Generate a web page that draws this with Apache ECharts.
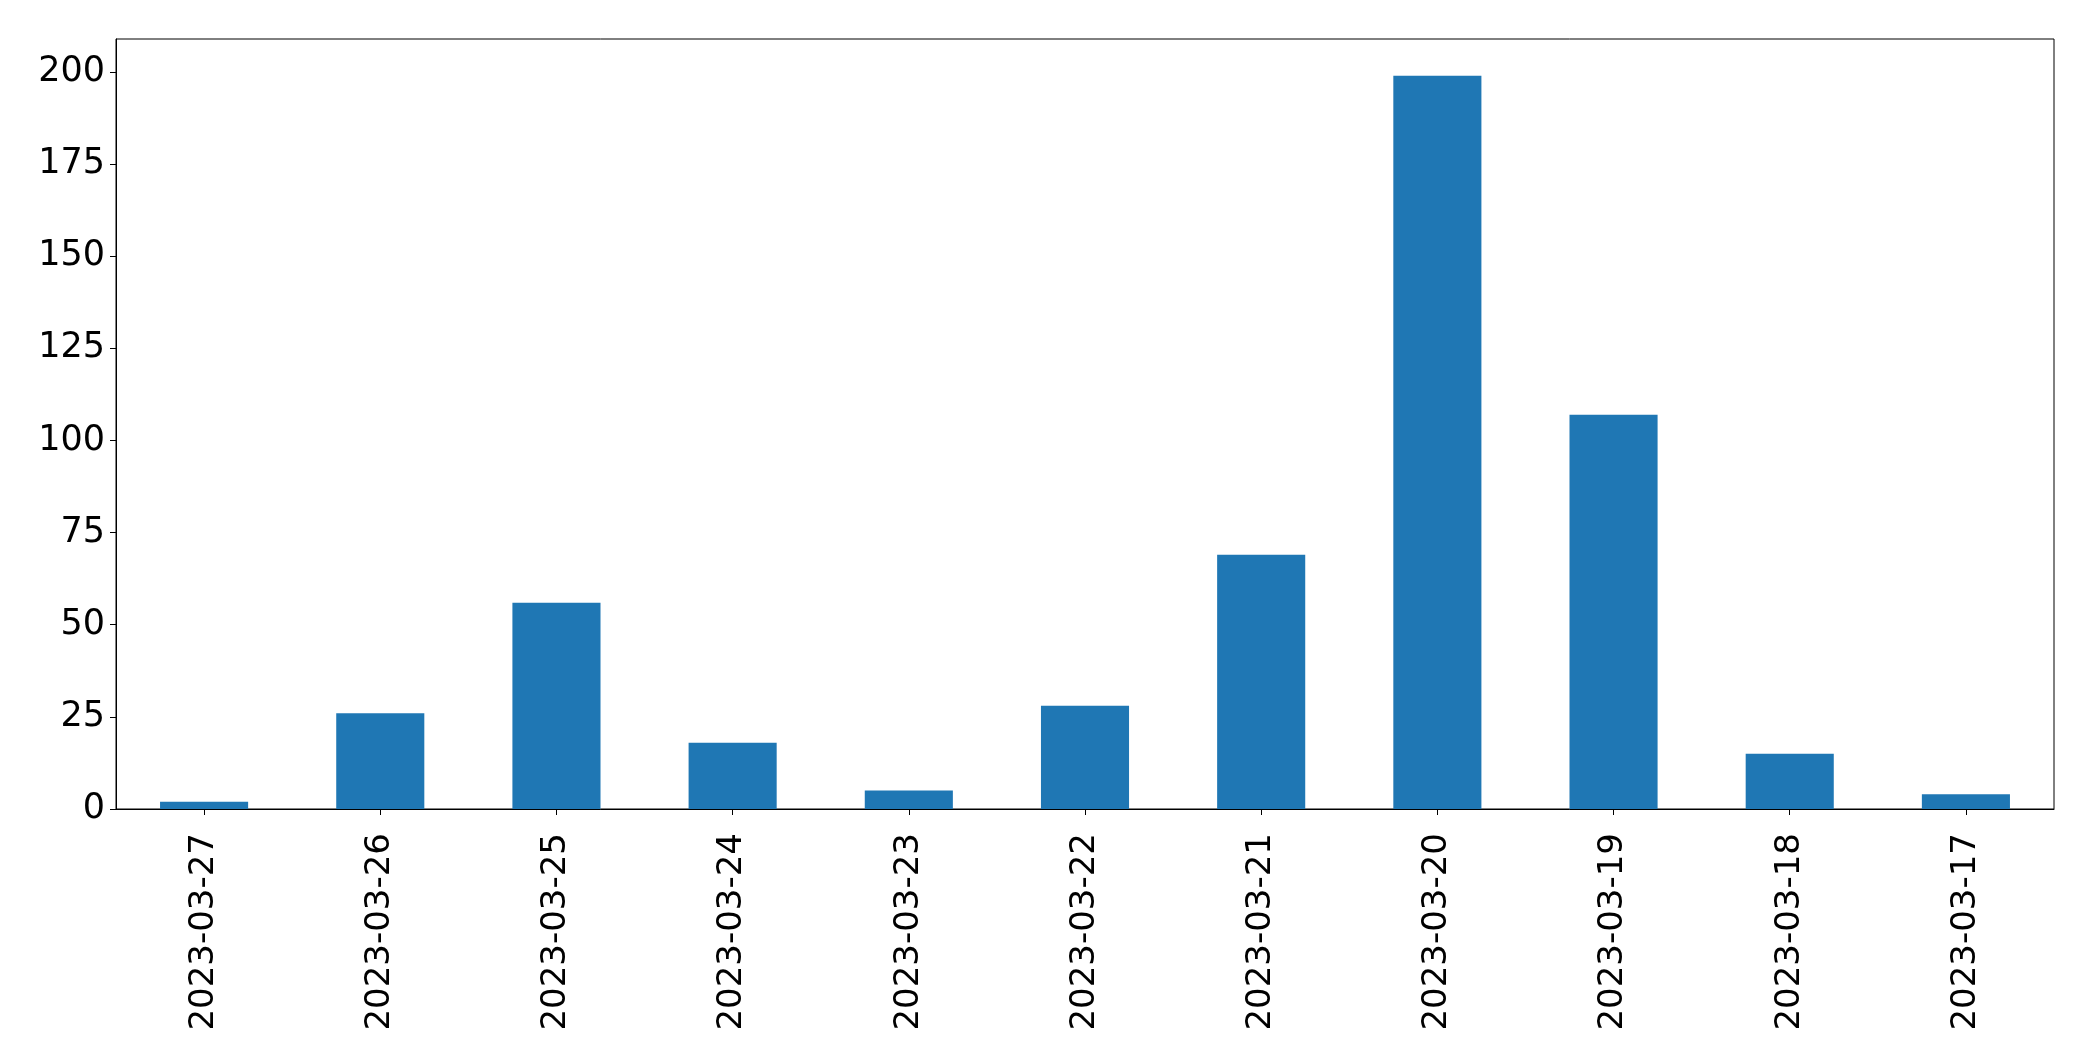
<!DOCTYPE html>
<html>
<head>
<meta charset="utf-8">
<script src="https://cdn.jsdelivr.net/npm/echarts@6/dist/echarts.min.js"></script>
<style>html,body{margin:0;padding:0;background:#fff}#c{width:2093px;height:1061px}</style>
</head>
<body>
<div id="c"></div>
<script>
const categories = ['2023-03-27','2023-03-26','2023-03-25','2023-03-24','2023-03-23','2023-03-22','2023-03-21','2023-03-20','2023-03-19','2023-03-18','2023-03-17'];
const counts = [2, 26, 56, 18, 5, 28, 69, 199, 107, 15, 4];
const yTicks = [0, 25, 50, 75, 100, 125, 150, 175, 200];

const chart = echarts.init(document.getElementById('c'), null, {renderer: 'canvas'});
const font = 'DejaVu Sans';
chart.setOption({
  animation: false,
  backgroundColor: '#fff',
  grid: {left: 116, right: 39, top: 39, bottom: 252, containLabel: false, show: true, borderColor: '#000', borderWidth: 1, backgroundColor: 'transparent'},
  xAxis: {
    type: 'category',
    data: categories,
    axisLine: {show: true, lineStyle: {color: '#000', width: 1}},
    axisTick: {show: true, alignWithLabel: true, length: 6, lineStyle: {color: '#000', width: 1}},
    axisLabel: {rotate: 90, margin: 24, color: '#000', fontFamily: font, fontSize: 34, interval: 0},
    splitLine: {show: false}
  },
  yAxis: {
    type: 'value',
    min: 0,
    max: 208.95,
    axisLine: {show: true, lineStyle: {color: '#000', width: 1}},
    axisTick: {show: true, length: 6, customValues: yTicks, lineStyle: {color: '#000', width: 1}},
    axisLabel: {customValues: yTicks, margin: 11, color: '#000', fontFamily: font, fontSize: 35},
    splitLine: {show: false}
  },
  series: [{
    type: 'bar',
    data: counts,
    barWidth: '50%',
    itemStyle: {color: '#1f77b4'}
  }]
});
</script>
</body>
</html>
